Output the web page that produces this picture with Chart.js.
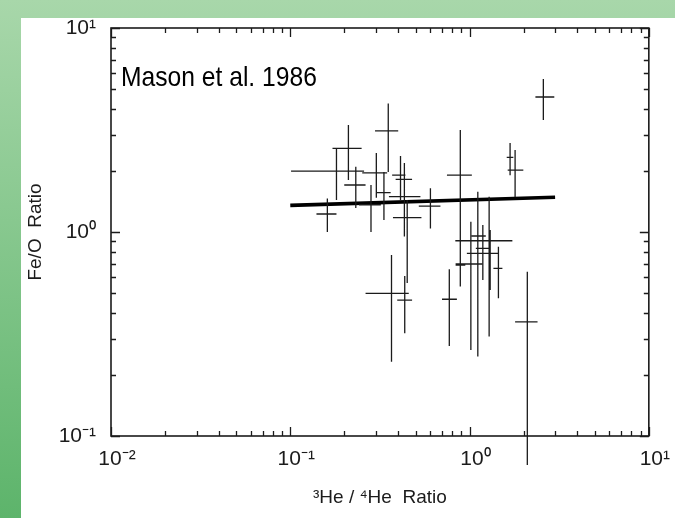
<!DOCTYPE html>
<html>
<head>
<meta charset="utf-8">
<title>Fe/O ratio versus 3He/4He ratio</title>
<script src="https://cdn.jsdelivr.net/npm/chart.js@4.4.1/dist/chart.umd.min.js"></script>
<style>
  html, body { margin: 0; padding: 0; background: #fff; }
  canvas { display: block; }
</style>
</head>
<body>
<canvas id="chart" width="675" height="518"></canvas>
<script>
// 3He/4He ratio of each event: central value and error limits
const heRatio = [0.352, 0.211, 0.181, 0.232, 0.302, 0.333, 0.282, 0.161, 0.412, 0.433,
                 0.433, 0.449, 0.605, 0.888, 0.888, 1.286, 1.112, 1.186, 1.017, 1.303,
                 1.449, 0.367, 0.435, 0.771, 2.10, 1.683, 1.795, 2.58];
const heLow   = [0.297, 0.172, 0.101, 0.200, 0.252, 0.304, 0.242, 0.140, 0.370, 0.387,
                 0.355, 0.374, 0.521, 0.748, 0.836, 0.833, 1.022, 1.084, 0.836, 0.966,
                 1.359, 0.263, 0.395, 0.702, 1.795, 1.612, 1.632, 2.33];
const heHigh  = [0.400, 0.250, 0.258, 0.263, 0.347, 0.363, 0.320, 0.181, 0.439, 0.478,
                 0.532, 0.539, 0.688, 1.030, 0.947, 1.733, 1.232, 1.286, 1.181, 1.449,
                 1.525, 0.458, 0.478, 0.850, 2.395, 1.755, 1.995, 2.97];

// Fe/O ratio of each event: central value and error limits
const feRatio = [3.13, 2.57, 1.99, 1.70, 1.95, 1.56, 1.36, 1.225, 1.90, 1.81,
                 1.49, 1.175, 1.34, 1.90, 0.689, 0.906, 0.956, 0.832, 0.697, 0.786,
                 0.664, 0.50, 0.464, 0.468, 0.363, 2.32, 2.01, 4.59];
const feLow   = [1.97, 1.80, 1.435, 1.31, 1.47, 1.145, 1.00, 1.00, 1.435, 0.95,
                 1.25, 0.562, 1.04, 1.00, 0.54, 0.307, 0.245, 0.582, 0.264, 0.52,
                 0.473, 0.231, 0.319, 0.276, 0.072, 1.90, 1.484, 3.54];
const feHigh  = [4.27, 3.35, 2.57, 2.09, 2.44, 1.97, 1.70, 1.46, 2.36, 2.18,
                 1.70, 1.435, 1.64, 3.16, 1.00, 1.49, 1.576, 1.082, 1.123, 1.023,
                 0.847, 0.771, 0.609, 0.656, 0.639, 2.73, 2.52, 5.63];

// Fitted trend line end points
const fitHe = [0.1, 3.0];
const fitFe = [1.35, 1.48];

// Axis ranges (powers of ten)
const xDecades = [-2, 1];
const yDecades = [-1, 1];

const annotation = 'Mason et al. 1986';
const xTitle = '\u00b3He / \u2074He  Ratio';
const yTitle = 'Fe/O  Ratio';

const SUP = { '-': '\u207b', '0': '\u2070', '1': '\u00b9', '2': '\u00b2', '3': '\u00b3' };
const supText = s => String(s).split('').map(c => SUP[c] || c).join('');

function isDecade(v) {
  const l = Math.log10(v);
  return Math.abs(l - Math.round(l)) < 1e-9;
}
function logTicks(lo, hi) {
  const out = [];
  for (let e = lo; e <= hi; e++) {
    for (let m = 1; m <= 9; m++) {
      if (e === hi && m > 1) break;
      out.push({ value: Number((m * Math.pow(10, e)).toPrecision(12)) });
    }
  }
  return out;
}
const decadeLabel = v => isDecade(v) ? '10' + supText(Math.round(Math.log10(v))) : '';

// Error bars: one polyline per direction, broken between events
const hBars = [], vBars = [];
heRatio.forEach((xv, i) => {
  hBars.push({ x: heLow[i], y: feRatio[i] }, { x: heHigh[i], y: feRatio[i] }, { x: xv, y: null });
  vBars.push({ x: xv, y: feLow[i] }, { x: xv, y: feHigh[i] }, { x: xv, y: null });
});
const fitPoints = fitHe.map((xv, i) => ({ x: xv, y: fitFe[i] }));

const INK = '#1b1b1b';
const tickFont = { family: "'Liberation Sans', Arial, sans-serif", size: 21 };
const titleFont = { family: "'Liberation Sans', Arial, sans-serif", size: 19 };

// Page background, plot frame, inward tick marks and the citation text
const frame = {
  id: 'frame',
  beforeDraw(chart) {
    const { ctx, width, height } = chart;
    ctx.save();
    const g = ctx.createLinearGradient(0, 0, 0, height);
    g.addColorStop(0, '#a8d7aa');
    g.addColorStop(1, '#5db46b');
    ctx.fillStyle = g;
    ctx.fillRect(0, 0, width, height);
    ctx.fillStyle = '#ffffff';
    ctx.fillRect(21, 18, width - 21, height - 18);
    ctx.restore();
  },
  afterDraw(chart) {
    const { ctx, chartArea: a, scales: { x, y } } = chart;
    ctx.save();
    ctx.strokeStyle = INK;
    ctx.lineWidth = 1.6;
    ctx.strokeRect(a.left, a.top, a.right - a.left, a.bottom - a.top);
    ctx.lineWidth = 1.3;
    ctx.beginPath();
    x.ticks.forEach(t => {
      const p = Math.round(x.getPixelForValue(t.value)) + 0.5;
      const len = isDecade(t.value) ? 9 : 5;
      ctx.moveTo(p, a.bottom); ctx.lineTo(p, a.bottom - len);
      ctx.moveTo(p, a.top); ctx.lineTo(p, a.top + len);
    });
    y.ticks.forEach(t => {
      const p = Math.round(y.getPixelForValue(t.value)) + 0.5;
      const len = isDecade(t.value) ? 9 : 5;
      ctx.moveTo(a.left, p); ctx.lineTo(a.left + len, p);
      ctx.moveTo(a.right, p); ctx.lineTo(a.right - len, p);
    });
    ctx.stroke();

    // citation, set in a slightly condensed face
    ctx.fillStyle = '#000';
    ctx.font = "28px 'Liberation Sans', Arial, sans-serif";
    ctx.textBaseline = 'alphabetic';
    ctx.textAlign = 'left';
    ctx.translate(a.left + 10, a.top + 58);
    ctx.scale(0.88, 1);
    ctx.fillText(annotation, 0, 0);
    ctx.restore();
  }
};

new Chart(document.getElementById('chart'), {
  type: 'scatter',
  data: {
    datasets: [
      { label: 'He ratio error', data: hBars, showLine: true, pointRadius: 0, borderColor: INK,
        borderWidth: 1.3, spanGaps: false, clip: false },
      { label: 'Fe/O error', data: vBars, showLine: true, pointRadius: 0, borderColor: INK,
        borderWidth: 1.3, spanGaps: false, clip: false },
      { label: 'Fit', data: fitPoints, showLine: true, pointRadius: 0, borderColor: '#000',
        borderWidth: 3.6 }
    ]
  },
  options: {
    responsive: false,
    animation: false,
    devicePixelRatio: 1,
    layout: { padding: { top: 28, right: 24, left: 0, bottom: 0 } },
    elements: { line: { tension: 0 } },
    plugins: { legend: { display: false }, tooltip: { enabled: false } },
    scales: {
      x: {
        type: 'logarithmic',
        position: 'bottom',
        min: Math.pow(10, xDecades[0]),
        max: Math.pow(10, xDecades[1]),
        afterBuildTicks: s => { s.ticks = logTicks(xDecades[0], xDecades[1]); },
        afterFit: s => { s.height = 82; },
        grid: { display: false, drawTicks: false },
        border: { display: false },
        ticks: { callback: decadeLabel, autoSkip: false, maxRotation: 0, minRotation: 0,
                 padding: 11, labelOffset: 6, font: tickFont, color: INK },
        title: { display: true, text: xTitle, font: titleFont, color: INK,
                 padding: { top: 0, bottom: 9 } }
      },
      y: {
        type: 'logarithmic',
        position: 'left',
        min: Math.pow(10, yDecades[0]),
        max: Math.pow(10, yDecades[1]),
        afterBuildTicks: s => { s.ticks = logTicks(yDecades[0], yDecades[1]); },
        afterFit: s => { s.width = 111; },
        grid: { display: false, drawTicks: false },
        border: { display: false },
        ticks: { callback: decadeLabel, autoSkip: false, padding: 15, font: tickFont, color: INK },
        title: { display: true, text: yTitle, font: titleFont, color: INK,
                 padding: { top: 24, bottom: 0 } }
      }
    }
  },
  plugins: [frame]
});
</script>
</body>
</html>
